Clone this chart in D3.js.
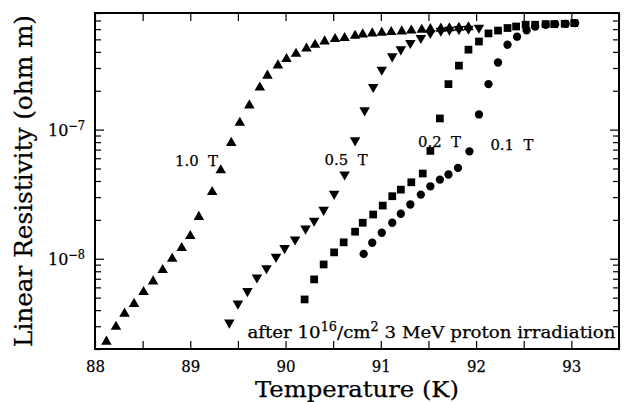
<!DOCTYPE html>
<html lang="en">
  <head>
    <meta charset="UTF-8" />
    <title>Linear Resistivity vs Temperature</title>
    <script src="https://cdn.jsdelivr.net/npm/d3@7"></script>
    <style>
      body { margin: 0; background: #fff; }
      svg text { font-family: "DejaVu Serif", "Liberation Serif", serif; fill: #000; stroke: #000; stroke-width: 0.25px; }
    </style>
  </head>
  <body>
    <div id="chart"></div>
    <script>
      // temperatures (K) and resistivities (ohm m)
      var temp10 = [88.12, 88.22, 88.31, 88.41, 88.51, 88.61, 88.71, 88.81, 88.91, 89.0, 89.09, 89.23, 89.32, 89.43, 89.52, 89.62, 89.73, 89.81, 89.92, 90.01, 90.11, 90.22, 90.31, 90.41, 90.52, 90.62, 90.73, 90.81, 90.91, 91.01, 91.11, 91.22, 91.32, 91.43, 91.52, 91.63, 91.72, 91.82, 91.92];
      var res10 = [2.28e-9, 2.97e-9, 3.76e-9, 4.47e-9, 5.53e-9, 6.67e-9, 8.18e-9, 1.0e-8, 1.21e-8, 1.5e-8, 2.11e-8, 3.29e-8, 4.84e-8, 7.89e-8, 1.13e-7, 1.54e-7, 2.12e-7, 2.62e-7, 3.14e-7, 3.52e-7, 3.87e-7, 4.25e-7, 4.54e-7, 4.82e-7, 5.03e-7, 5.12e-7, 5.33e-7, 5.46e-7, 5.56e-7, 5.62e-7, 5.7e-7, 5.76e-7, 5.86e-7, 5.93e-7, 6.0e-7, 6.05e-7, 6.1e-7, 6.15e-7, 6.2e-7];

      var temp05 = [89.41, 89.5, 89.6, 89.7, 89.8, 89.9, 89.99, 90.1, 90.21, 90.3, 90.4, 90.51, 90.62, 90.73, 90.83, 90.92, 91.01, 91.12, 91.21, 91.31, 91.42, 91.52, 91.63, 91.72, 91.82, 91.92, 92.03];
      var res05 = [3.2e-9, 4.49e-9, 5.61e-9, 7.16e-9, 8.45e-9, 1.035e-8, 1.21e-8, 1.41e-8, 1.71e-8, 1.97e-8, 2.39e-8, 3.18e-8, 4.49e-8, 8.26e-8, 1.41e-7, 2.14e-7, 2.91e-7, 3.69e-7, 4.18e-7, 4.69e-7, 5.13e-7, 5.6e-7, 5.83e-7, 5.93e-7, 6.0e-7, 6.05e-7, 6.15e-7];

      var temp02 = [90.2, 90.3, 90.4, 90.51, 90.61, 90.73, 90.81, 90.92, 91.02, 91.12, 91.21, 91.32, 91.44, 91.52, 91.62, 91.71, 91.82, 91.92, 92.03, 92.13, 92.23, 92.33, 92.42, 92.52, 92.62, 92.73, 92.82, 92.93, 93.03];
      var res02 = [4.84e-9, 6.92e-9, 9.03e-9, 1.12e-8, 1.34e-8, 1.62e-8, 1.9e-8, 2.2e-8, 2.58e-8, 3.05e-8, 3.43e-8, 3.91e-8, 4.57e-8, 6.84e-8, 1.22e-7, 2.25e-7, 3.13e-7, 4.16e-7, 4.81e-7, 5.56e-7, 5.85e-7, 6.12e-7, 6.29e-7, 6.49e-7, 6.49e-7, 6.56e-7, 6.56e-7, 6.6e-7, 6.68e-7];

      var temp01 = [90.82, 90.91, 91.01, 91.12, 91.21, 91.31, 91.42, 91.52, 91.62, 91.71, 91.81, 91.93, 92.03, 92.13, 92.23, 92.33, 92.43, 92.53, 92.62, 92.73, 92.83, 92.94, 93.04];
      var res01 = [1.09e-8, 1.33e-8, 1.59e-8, 1.9e-8, 2.23e-8, 2.63e-8, 3.14e-8, 3.64e-8, 4.1e-8, 4.49e-8, 5.06e-8, 6.79e-8, 1.31e-7, 2.25e-7, 3.31e-7, 4.54e-7, 5.24e-7, 5.88e-7, 6.29e-7, 6.49e-7, 6.56e-7, 6.6e-7, 6.68e-7];

      var xMajorTicks = [88, 89, 90, 91, 92, 93];
      var xMinorTicks = [88.5, 89.5, 90.5, 91.5, 92.5, 93.5];

      var width = 626, height = 402;
      var margin = { top: 13, right: 7, bottom: 53, left: 95 };
      var iw = width - margin.left - margin.right;
      var ih = height - margin.top - margin.bottom;

      var svg = d3
        .select("#chart")
        .append("svg")
        .attr("width", width)
        .attr("height", height);
      var g = svg.append("g").attr("transform", "translate(" + margin.left + "," + margin.top + ")");

      var x = d3.scaleLinear().domain([88, 93.5]).range([0, iw]);
      var y = d3.scaleLog().domain([2e-9, 8e-7]).range([ih, 0]);

      var yAll = y.ticks();
      var yMajor = yAll.filter(function (d) {
        return Math.abs(Math.log10(d) - Math.round(Math.log10(d))) < 1e-6;
      });
      var yMinor = yAll.filter(function (d) {
        return yMajor.indexOf(d) < 0;
      });

      function styleAxis(sel) {
        sel.attr("font-family", null).attr("font-size", null);
        sel.select(".domain").remove();
        sel.selectAll(".tick line").attr("stroke", "#000").attr("stroke-width", 1.2);
      }

      // stretch a text to the width it has in the figure
      function fit(sel, w) {
        sel.attr("textLength", w).attr("lengthAdjust", "spacingAndGlyphs");
      }

      // bottom axis
      g.append("g")
        .attr("transform", "translate(0," + ih + ")")
        .call(d3.axisBottom(x).tickValues(xMajorTicks).tickSizeInner(-8).tickSizeOuter(0).tickPadding(11).tickFormat(d3.format("d")))
        .call(styleAxis)
        .call(function (s) {
          s.selectAll("text").style("font-size", "17px").each(function () {
            fit(d3.select(this), 19);
          });
        });
      g.append("g")
        .attr("transform", "translate(0," + ih + ")")
        .call(d3.axisBottom(x).tickValues(xMinorTicks).tickSizeInner(-8).tickSizeOuter(0).tickFormat(""))
        .call(styleAxis);
      // top axis
      g.append("g")
        .call(d3.axisTop(x).tickValues(xMajorTicks.concat(xMinorTicks)).tickSizeInner(-8).tickSizeOuter(0).tickFormat(""))
        .call(styleAxis);

      // left axis
      var left = g.append("g")
        .call(d3.axisLeft(y).tickValues(yMajor).tickSizeInner(-9).tickSizeOuter(0).tickPadding(10).tickFormat(""))
        .call(styleAxis);
      left.selectAll(".tick text").each(function (d) {
        var t = d3.select(this).style("font-size", "17px").attr("dy", "0.32em");
        t.append("tspan").text("10");
        t.append("tspan").attr("dy", -6).style("font-size", "12px").text("\u2212" + Math.abs(Math.round(Math.log10(d))));
        fit(t, 37);
      });
      g.append("g")
        .call(d3.axisLeft(y).tickValues(yMinor).tickSizeInner(-6).tickSizeOuter(0).tickFormat(""))
        .call(styleAxis);
      // right axis
      g.append("g")
        .attr("transform", "translate(" + iw + ",0)")
        .call(d3.axisRight(y).tickValues(yMajor).tickSizeInner(-9).tickSizeOuter(0).tickFormat(""))
        .call(styleAxis);
      g.append("g")
        .attr("transform", "translate(" + iw + ",0)")
        .call(d3.axisRight(y).tickValues(yMinor).tickSizeInner(-6).tickSizeOuter(0).tickFormat(""))
        .call(styleAxis);

      // frame
      g.append("rect")
        .attr("width", iw)
        .attr("height", ih)
        .attr("fill", "none")
        .attr("stroke", "#000")
        .attr("stroke-width", 2);

      // series
      var series = [
        { t: temp10, r: res10, shape: d3.symbolTriangle, size: 48, rot: 0 },
        { t: temp05, r: res05, shape: d3.symbolTriangle, size: 48, rot: 180 },
        { t: temp02, r: res02, shape: d3.symbolSquare, size: 60, rot: 0 },
        { t: temp01, r: res01, shape: d3.symbolCircle, size: 54, rot: 0 },
      ];
      series.forEach(function (s) {
        var pts = s.t.map(function (d, i) {
          return { T: d, R: s.r[i] };
        });
        g.append("g")
          .selectAll("path")
          .data(pts)
          .enter()
          .append("path")
          .attr("d", d3.symbol().type(s.shape).size(s.size))
          .attr("transform", function (d) {
            return "translate(" + x(d.T) + "," + y(d.R) + ") rotate(" + s.rot + ")";
          })
          .attr("fill", "#000");
      });

      // field labels
      function label(txt, T, R) {
        var t = g.append("text")
          .attr("x", x(T))
          .attr("y", y(R))
          .style("font-size", "15px")
          .style("white-space", "pre")
          .text(txt);
        fit(t, 43);
      }
      label("1.0  T", 88.84, 5.27e-8);
      label("0.5  T", 90.41, 5.36e-8);
      label("0.2  T", 91.39, 7.39e-8);
      label("0.1  T", 92.15, 7.0e-8);

      // irradiation note
      var note = g.append("text")
        .attr("x", x(89.6))
        .attr("y", y(2.43e-9))
        .style("font-size", "17px")
        .style("white-space", "pre");
      note.append("tspan").text("after 10");
      note.append("tspan").attr("dy", -7).style("font-size", "12px").text("16");
      note.append("tspan").attr("dy", 7).text("/cm");
      note.append("tspan").attr("dy", -7).style("font-size", "12px").text("2");
      note.append("tspan").attr("dy", 7).text(" 3 MeV proton irradiation");
      fit(note, 368);

      // axis titles
      var xt = svg.append("text")
        .attr("x", margin.left + iw / 2)
        .attr("y", 397)
        .attr("text-anchor", "middle")
        .style("font-size", "22px")
        .text("Temperature (K)");
      fit(xt, 204);
      var yt = svg.append("text")
        .attr("transform", "translate(32," + (margin.top + ih / 2) + ") rotate(-90)")
        .attr("text-anchor", "middle")
        .style("font-size", "24px")
        .text("Linear Resistivity (ohm m)");
      fit(yt, 332);
    </script>
  </body>
</html>
